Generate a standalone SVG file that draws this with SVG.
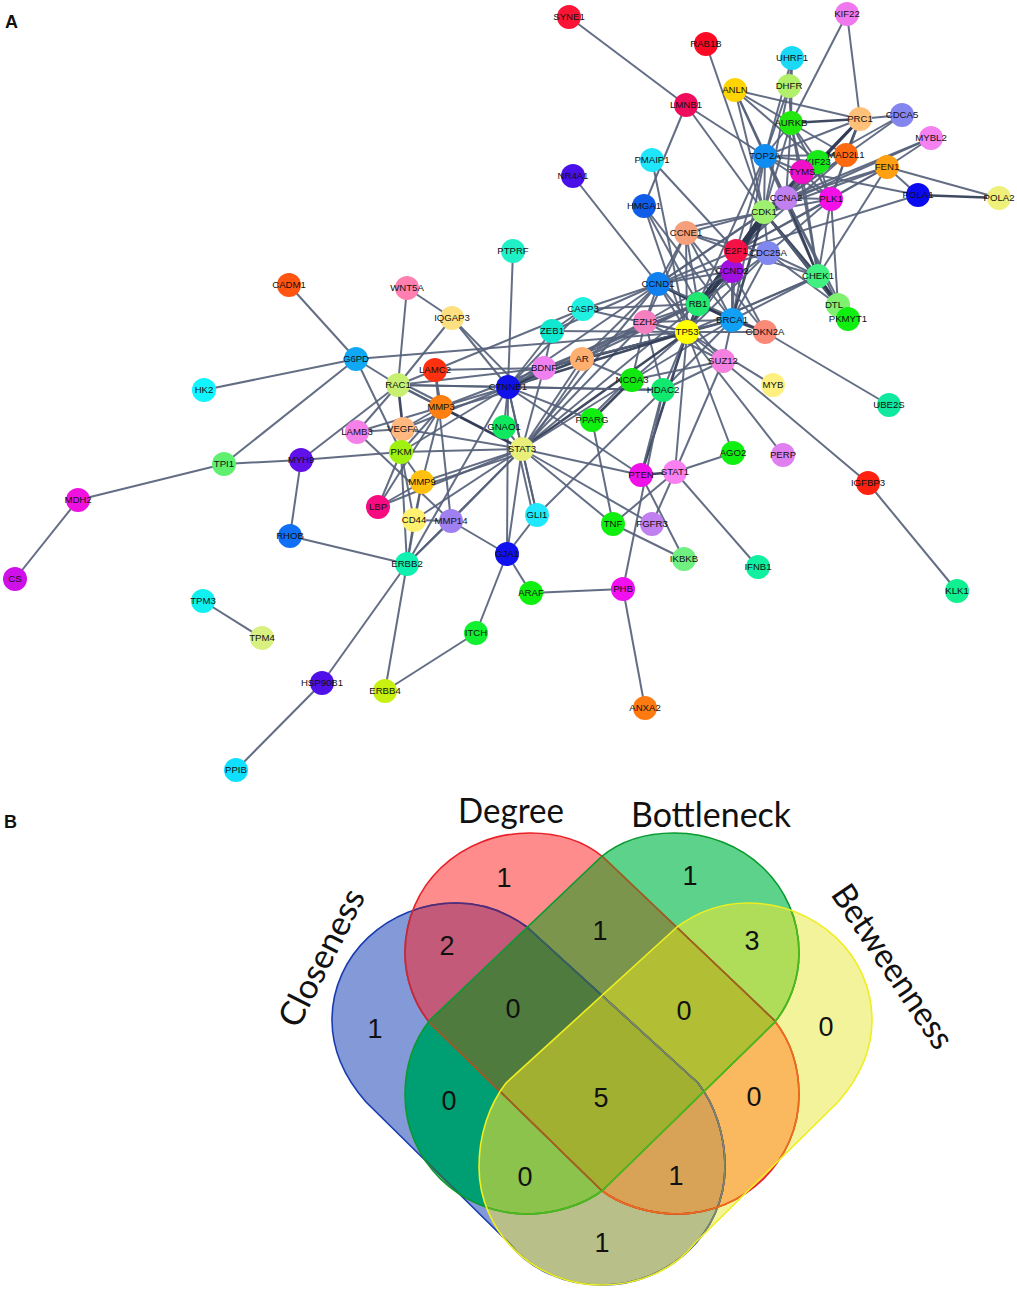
<svg xmlns="http://www.w3.org/2000/svg" xmlns:xlink="http://www.w3.org/1999/xlink" width="1017" height="1293" viewBox="0 0 1017 1293">
<style>
#edges path{fill:none;stroke:#56617a;stroke-width:2;stroke-opacity:.92}
#edges path.t{stroke:#2f3a52;stroke-width:2.6}
.n circle{r:12px}
.n text{font:9.6px "Liberation Sans",Arial,sans-serif;fill:#111;text-anchor:middle}
.num{font:27px "Liberation Sans",Arial,sans-serif;fill:#111;text-anchor:middle}
.ttl{font:34px Lato,"Liberation Sans",sans-serif;fill:#111;text-anchor:middle}
.pl{font:bold 18px "Liberation Sans",Arial,sans-serif;fill:#111}
.v{fill:none;stroke-width:1.6}
</style>
<defs>
<path id="pB" d="M332 1020C332 955 388 903 456 903C485 903 508 913 527 927L698 1083C715 1105 725 1135 725 1167C725 1232 670 1285 602 1285C565 1285 530 1270 509 1243L366 1102C345 1078 332 1050 332 1020Z"/>
<path id="pR" d="M405 953C405 885 460 833 530 833C560 833 585 842 603 857L774 1020C790 1040 799 1065 799 1095C799 1160 745 1214 677 1214C650 1214 620 1205 601 1190L430 1023C415 1005 405 980 405 953Z"/>
<path id="pG" d="M799 953C799 885 744 833 674 833C644 833 619 842 601 857L430 1020C414 1040 405 1065 405 1095C405 1160 459 1214 527 1214C554 1214 584 1205 603 1190L774 1023C789 1005 799 980 799 953Z"/>
<path id="pY" d="M872 1020C872 955 816 903 748 903C719 903 696 913 677 927L506 1083C489 1105 479 1135 479 1167C479 1232 534 1285 602 1285C639 1285 674 1270 695 1243L838 1102C859 1078 872 1050 872 1020Z"/>
<clipPath id="cB"><use href="#pB"/></clipPath>
<clipPath id="cR"><use href="#pR"/></clipPath>
<clipPath id="cG"><use href="#pG"/></clipPath>
<clipPath id="cY"><use href="#pY"/></clipPath>
</defs>
<rect width="1017" height="1293" fill="#fff"/>
<text class="pl" x="5" y="28">A</text>
<text class="pl" x="4" y="828">B</text>
<g id="edges">
<path d="M569 17L686 105"/><path d="M706 44L764 212"/><path d="M847 14L791 123"/><path d="M847 14L860 119"/>
<path d="M792 58L789 86"/><path d="M792 58L765 156"/><path d="M792 58L791 123"/><path d="M789 86L791 123"/><path d="M789 86L765 156"/><path d="M789 86L764 212"/>
<path d="M735 90L860 119"/><path d="M735 90L791 123"/><path d="M735 90L765 156"/><path d="M735 90L818 162"/><path d="M735 90L786 198"/><path d="M735 90L764 212"/>
<path d="M686 105L765 156"/><path d="M686 105L764 212"/><path d="M686 105L644 206"/>
<path d="M652 160L736 251"/><path d="M652 160L687 332"/><path d="M573 176L658 284"/>
<path d="M644 206L698 304"/><path d="M644 206L687 332"/><path d="M644 206L732 320"/>
<path class="t" d="M791 123L860 119"/><path d="M791 123L765 156"/><path d="M791 123L818 162"/><path d="M791 123L846 155"/><path d="M791 123L802 172"/><path d="M791 123L818 276"/><path d="M791 123L786 198"/><path d="M791 123L831 199"/><path d="M791 123L764 212"/>
<path d="M860 119L902 115"/><path d="M860 119L765 156"/><path class="t" d="M860 119L818 162"/><path class="t" d="M860 119L846 155"/><path class="t" d="M860 119L786 198"/><path d="M860 119L831 199"/><path d="M902 115L818 162"/><path d="M902 115L846 155"/>
<path d="M931 138L887 167"/><path d="M931 138L764 212"/><path d="M931 138L786 198"/>
<path d="M887 167L918 195"/><path d="M887 167L999 198"/><path d="M887 167L786 198"/><path d="M887 167L831 199"/><path d="M887 167L764 212"/><path d="M887 167L818 276"/><path d="M887 167L736 251"/>
<path class="t" d="M918 195L999 198"/><path d="M918 195L802 172"/><path d="M918 195L736 251"/>
<path d="M765 156L818 162"/><path d="M765 156L802 172"/><path d="M765 156L846 155"/><path d="M765 156L786 198"/><path d="M765 156L764 212"/><path d="M765 156L736 251"/><path d="M765 156L732 320"/><path d="M765 156L818 276"/><path d="M765 156L698 304"/><path d="M765 156L831 199"/>
<path d="M818 162L786 198"/><path d="M818 162L831 199"/><path class="t" d="M818 162L764 212"/><path d="M818 162L736 251"/>
<path d="M846 155L764 212"/><path d="M846 155L831 199"/><path d="M846 155L786 198"/><path d="M846 155L736 251"/>
<path d="M802 172L764 212"/><path class="t" d="M802 172L736 251"/><path d="M802 172L831 199"/><path d="M802 172L786 198"/><path d="M802 172L818 276"/>
<path d="M831 199L786 198"/><path d="M831 199L764 212"/><path d="M831 199L736 251"/><path d="M831 199L818 276"/><path d="M831 199L838 305"/><path d="M831 199L768 253"/>
<path d="M786 198L764 212"/><path class="t" d="M786 198L736 251"/><path class="t" d="M786 198L818 276"/><path d="M786 198L658 284"/><path d="M786 198L698 304"/><path d="M786 198L838 305"/><path d="M786 198L848 319"/>
<path d="M764 212L686 233"/><path d="M764 212L686 228"/><path class="t" d="M764 212L736 251"/><path d="M764 212L768 253"/><path class="t" d="M764 212L818 276"/><path class="t" d="M764 212L698 304"/><path class="t" d="M764 212L732 320"/><path d="M764 212L658 284"/><path class="t" d="M764 212L732 271"/><path class="t" d="M764 212L687 332"/><path class="t" d="M764 212L848 319"/><path d="M764 212L838 305"/>
<path d="M686 233L736 251"/><path d="M686 233L658 284"/><path d="M686 233L698 304"/><path d="M686 233L687 332"/><path d="M686 233L732 320"/><path d="M686 233L765 332"/><path d="M686 233L768 253"/><path d="M686 233L645 322"/>
<path class="t" d="M736 251L698 304"/><path d="M736 251L658 284"/><path class="t" d="M736 251L687 332"/><path d="M736 251L732 320"/><path d="M736 251L818 276"/>
<path d="M732 271L658 284"/><path class="t" d="M732 271L698 304"/><path d="M732 271L687 332"/><path d="M732 271L765 332"/><path d="M732 271L732 320"/><path d="M732 271L645 322"/>
<path d="M768 253L818 276"/><path d="M768 253L838 305"/><path d="M768 253L658 284"/><path d="M768 253L698 304"/><path d="M768 253L732 320"/><path d="M768 253L687 332"/>
<path d="M818 276L732 320"/><path d="M818 276L725 316"/><path d="M818 276L687 332"/><path class="t" d="M818 276L838 305"/><path class="t" d="M818 276L848 319"/>
<path class="t" d="M658 284L698 304"/><path class="t" d="M658 284L732 320"/><path d="M658 284L687 332"/><path d="M658 284L765 332"/><path d="M658 284L583 309"/><path d="M658 284L645 322"/><path d="M658 284L522 449"/><path d="M658 284L552 331"/><path d="M658 284L508 387"/><path d="M658 284L582 359"/><path d="M658 284L723 361"/>
<path class="t" d="M698 304L732 320"/><path class="t" d="M698 304L687 332"/><path d="M698 304L583 309"/><path d="M698 304L645 322"/><path d="M698 304L508 387"/><path d="M698 304L544 368"/><path d="M698 304L582 359"/><path d="M698 304L522 449"/>
<path d="M583 309L552 331"/><path d="M583 309L687 332"/><path d="M583 309L508 387"/><path d="M583 309L435 370"/>
<path class="t" d="M732 320L687 332"/><path d="M732 320L645 322"/><path class="t" d="M732 320L765 332"/><path d="M732 320L723 361"/><path d="M732 320L663 390"/><path d="M732 320L582 359"/><path d="M732 320L632 380"/>
<path d="M645 322L687 332"/><path d="M645 322L723 361"/><path d="M645 322L632 380"/><path d="M645 322L663 390"/><path d="M645 322L508 387"/><path d="M645 322L522 449"/><path d="M645 322L582 359"/>
<path d="M687 332L765 332"/><path d="M687 332L723 361"/><path d="M687 332L773 385"/><path d="M687 332L783 455"/><path d="M687 332L733 453"/><path class="t" d="M687 332L641 475"/><path d="M687 332L675 472"/><path d="M687 332L632 380"/><path d="M687 332L663 390"/><path class="t" d="M687 332L582 359"/><path d="M687 332L544 368"/><path class="t" d="M687 332L508 387"/><path class="t" d="M687 332L522 449"/><path d="M687 332L552 331"/><path d="M687 332L356 359"/>
<path d="M723 361L632 380"/><path d="M723 361L663 390"/><path d="M723 361L868 483"/><path d="M723 361L675 472"/>
<path d="M765 332L889 405"/><path d="M582 359L632 380"/><path class="t" d="M582 359L508 387"/><path d="M582 359L522 449"/><path d="M582 359L544 368"/>
<path d="M663 390L508 387"/><path d="M663 390L537 515"/><path d="M663 390L623 589"/><path d="M663 390L641 475"/><path d="M663 390L398 385"/>
<path class="t" d="M632 380L592 420"/><path d="M632 376L590 418"/><path d="M632 380L522 449"/>
<path d="M592 420L508 387"/><path d="M592 420L613 524"/>
<path class="t" d="M675 472L641 475"/><path d="M675 472L733 453"/><path d="M675 472L758 567"/><path d="M675 472L613 524"/><path d="M675 472L652 524"/>
<path d="M641 475L522 449"/><path d="M641 475L684 559"/><path d="M522 449L652 524"/><path d="M522 449L613 524"/><path d="M613 524L684 559"/><path d="M508 387L641 475"/>
<path d="M868 483L957 591"/><path d="M623 589L531 593"/><path d="M623 589L645 708"/><path d="M531 593L507 554"/><path d="M507 554L537 515"/><path d="M507 554L476 633"/><path d="M507 554L508 387"/><path d="M507 554L451 521"/><path d="M357 432L451 521"/>
<path d="M289 285L356 359"/><path d="M356 359L204 390"/><path d="M356 359L224 464"/><path d="M356 359L398 385"/><path d="M356 359L401 452"/>
<path d="M407 288L398 385"/><path d="M407 288L452 318"/><path d="M452 318L398 385"/><path d="M452 318L508 387"/><path d="M452 318L514 381"/><path d="M513 251L508 387"/>
<path d="M398 385L435 370"/><path d="M398 385L508 387"/><path d="M398 385L441 407"/><path d="M398 381L441 403"/><path class="t" d="M398 385L403 429"/><path d="M398 385L357 432"/><path d="M398 385L301 460"/><path d="M398 385L522 449"/><path d="M398 385L544 368"/>
<path d="M435 370L441 407"/><path d="M435 370L451 521"/><path d="M435 370L544 368"/>
<path d="M441 407L508 387"/><path d="M441 411L510 391"/><path class="t" d="M441 407L522 449"/><path d="M441 407L403 429"/><path d="M441 407L357 432"/><path d="M441 407L401 452"/><path d="M441 407L422 482"/><path d="M441 407L378 507"/><path d="M441 407L544 368"/>
<path d="M403 429L522 449"/><path d="M403 429L508 387"/><path d="M403 429L401 452"/><path d="M403 429L357 432"/>
<path d="M401 452L522 449"/><path d="M401 452L301 460"/><path d="M401 452L422 482"/><path d="M401 452L378 507"/><path d="M401 452L414 520"/><path d="M401 452L407 564"/><path d="M401 452L508 387"/>
<path d="M301 460L224 464"/><path d="M301 460L290 536"/><path d="M224 464L78 500"/><path d="M78 500L15 579"/>
<path d="M422 482L522 449"/><path d="M422 486L522 453"/><path d="M422 482L378 507"/><path d="M422 482L414 520"/><path d="M422 482L407 564"/>
<path d="M378 507L522 449"/><path d="M414 520L451 521"/><path d="M414 520L522 449"/><path d="M414 520L407 564"/><path d="M451 521L522 449"/><path d="M451 521L407 564"/>
<path d="M407 564L522 449"/><path d="M407 564L290 536"/><path d="M407 564L322 683"/><path d="M407 564L385 691"/><path d="M407 564L508 387"/>
<path d="M322 683L236 770"/><path d="M385 691L476 633"/><path d="M203 601L262 638"/>
<path d="M522 449L537 515"/><path d="M518 449L533 515"/><path d="M522 449L504 427"/><path d="M522 449L508 387"/><path d="M522 449L544 368"/><path d="M526 449L585 362"/><path d="M522 449L507 554"/>
<path d="M508 387L544 368"/><path d="M508 391L546 372"/><path d="M508 387L552 331"/><path d="M552 331L544 368"/><path d="M508 387L504 427"/><path d="M508 387L537 515"/>
</g>
<g id="nodes">
<g class="n" id="SYNE1"><circle cx="569" cy="17" fill="#fa1537"/><text x="569" y="20">SYNE1</text></g>
<g class="n" id="RAB1B"><circle cx="706" cy="44" fill="#ff0a25"/><text x="706" y="47">RAB1B</text></g>
<g class="n" id="KIF22"><circle cx="847" cy="14" fill="#f078ee"/><text x="847" y="17">KIF22</text></g>
<g class="n" id="UHRF1"><circle cx="792" cy="58" fill="#1ad9f5"/><text x="792" y="61">UHRF1</text></g>
<g class="n" id="DHFR"><circle cx="789" cy="86" fill="#b2f06c"/><text x="789" y="89">DHFR</text></g>
<g class="n" id="ANLN"><circle cx="735" cy="90" fill="#ffd400"/><text x="735" y="93">ANLN</text></g>
<g class="n" id="LMNB1"><circle cx="686" cy="105" fill="#f00c5c"/><text x="686" y="108">LMNB1</text></g>
<g class="n" id="PRC1"><circle cx="860" cy="119" fill="#ffc07a"/><text x="860" y="122">PRC1</text></g>
<g class="n" id="CDCA5"><circle cx="902" cy="115" fill="#8585f0"/><text x="902" y="118">CDCA5</text></g>
<g class="n" id="AURKB"><circle cx="791" cy="123" fill="#22e80f"/><text x="791" y="126">AURKB</text></g>
<g class="n" id="MYBL2"><circle cx="931" cy="138" fill="#f580f0"/><text x="931" y="141">MYBL2</text></g>
<g class="n" id="TOP2A"><circle cx="765" cy="156" fill="#0f8cf0"/><text x="765" y="159">TOP2A</text></g>
<g class="n" id="KIF23"><circle cx="818" cy="162" fill="#18e818"/><text x="818" y="165">KIF23</text></g>
<g class="n" id="MAD2L1"><circle cx="846" cy="155" fill="#ff6a10"/><text x="846" y="158">MAD2L1</text></g>
<g class="n" id="FEN1"><circle cx="887" cy="167" fill="#ffa010"/><text x="887" y="170">FEN1</text></g>
<g class="n" id="PMAIP1"><circle cx="652" cy="160" fill="#1fe6fa"/><text x="652" y="163">PMAIP1</text></g>
<g class="n" id="TYMS"><circle cx="802" cy="172" fill="#f010c8"/><text x="802" y="175">TYMS</text></g>
<g class="n" id="NR4A1"><circle cx="573" cy="176" fill="#4a10e8"/><text x="573" y="179">NR4A1</text></g>
<g class="n" id="POLA1"><circle cx="918" cy="195" fill="#0a0af0"/><text x="918" y="198">POLA1</text></g>
<g class="n" id="POLA2"><circle cx="999" cy="198" fill="#eef07a"/><text x="999" y="201">POLA2</text></g>
<g class="n" id="CCNA2"><circle cx="786" cy="198" fill="#c080f0"/><text x="786" y="201">CCNA2</text></g>
<g class="n" id="PLK1"><circle cx="831" cy="199" fill="#f510e8"/><text x="831" y="202">PLK1</text></g>
<g class="n" id="HMGA1"><circle cx="644" cy="206" fill="#0f5ce8"/><text x="644" y="209">HMGA1</text></g>
<g class="n" id="CDK1"><circle cx="764" cy="212" fill="#a0f070"/><text x="764" y="215">CDK1</text></g>
<g class="n" id="CCNE1"><circle cx="686" cy="233" fill="#f5a07a"/><text x="686" y="236">CCNE1</text></g>
<g class="n" id="CDC25A"><circle cx="768" cy="253" fill="#8088f0"/><text x="768" y="256">CDC25A</text></g>
<g class="n" id="CCND2"><circle cx="732" cy="271" fill="#a010e0"/><text x="732" y="274">CCND2</text></g>
<g class="n" id="E2F1"><circle cx="736" cy="251" fill="#f51045"/><text x="736" y="254">E2F1</text></g>
<g class="n" id="CHEK1"><circle cx="818" cy="276" fill="#40f080"/><text x="818" y="279">CHEK1</text></g>
<g class="n" id="CCND1"><circle cx="658" cy="284" fill="#1080f0"/><text x="658" y="287">CCND1</text></g>
<g class="n" id="RB1"><circle cx="698" cy="304" fill="#20e870"/><text x="698" y="307">RB1</text></g>
<g class="n" id="DTL"><circle cx="838" cy="305" fill="#80f070"/><text x="834" y="308">DTL</text></g>
<g class="n" id="PKMYT1"><circle cx="848" cy="319" fill="#10f010"/><text x="848" y="322">PKMYT1</text></g>
<g class="n" id="CASP3"><circle cx="583" cy="309" fill="#20f0e0"/><text x="583" y="312">CASP3</text></g>
<g class="n" id="BRCA1"><circle cx="732" cy="320" fill="#10a0f5"/><text x="732" y="323">BRCA1</text></g>
<g class="n" id="ZEB1"><circle cx="552" cy="331" fill="#10e8d0"/><text x="552" y="334">ZEB1</text></g>
<g class="n" id="EZH2"><circle cx="645" cy="322" fill="#f580c0"/><text x="645" y="325">EZH2</text></g>
<g class="n" id="TP53"><circle cx="687" cy="332" fill="#ffff00"/><text x="687" y="335">TP53</text></g>
<g class="n" id="CDKN2A"><circle cx="765" cy="332" fill="#fa8a78"/><text x="765" y="335">CDKN2A</text></g>
<g class="n" id="AR"><circle cx="582" cy="359" fill="#ffb070"/><text x="582" y="362">AR</text></g>
<g class="n" id="SUZ12"><circle cx="723" cy="361" fill="#f580e0"/><text x="723" y="364">SUZ12</text></g>
<g class="n" id="BDNF"><circle cx="544" cy="368" fill="#f080f0"/><text x="544" y="371">BDNF</text></g>
<g class="n" id="MYB"><circle cx="773" cy="385" fill="#fff080"/><text x="773" y="388">MYB</text></g>
<g class="n" id="NCOA3"><circle cx="632" cy="380" fill="#10e810"/><text x="632" y="383">NCOA3</text></g>
<g class="n" id="HDAC2"><circle cx="663" cy="390" fill="#10e870"/><text x="663" y="393">HDAC2</text></g>
<g class="n" id="CTNNB1"><circle cx="508" cy="387" fill="#1010e8"/><text x="508" y="390">CTNNB1</text></g>
<g class="n" id="PPARG"><circle cx="592" cy="420" fill="#10f010"/><text x="592" y="423">PPARG</text></g>
<g class="n" id="GNAO1"><circle cx="504" cy="427" fill="#10e860"/><text x="504" y="430">GNAO1</text></g>
<g class="n" id="STAT3"><circle cx="522" cy="449" fill="#e8f07a"/><text x="522" y="452">STAT3</text></g>
<g class="n" id="AGO2"><circle cx="733" cy="453" fill="#10f010"/><text x="733" y="456">AGO2</text></g>
<g class="n" id="PERP"><circle cx="783" cy="455" fill="#e080f0"/><text x="783" y="458">PERP</text></g>
<g class="n" id="PTEN"><circle cx="641" cy="475" fill="#f010e8"/><text x="641" y="478">PTEN</text></g>
<g class="n" id="STAT1"><circle cx="675" cy="472" fill="#f880f0"/><text x="675" y="475">STAT1</text></g>
<g class="n" id="IGFBP3"><circle cx="868" cy="483" fill="#ff2010"/><text x="868" y="486">IGFBP3</text></g>
<g class="n" id="GLI1"><circle cx="537" cy="515" fill="#20e8ff"/><text x="537" y="518">GLI1</text></g>
<g class="n" id="TNF"><circle cx="613" cy="524" fill="#10f010"/><text x="613" y="527">TNF</text></g>
<g class="n" id="FGFR3"><circle cx="652" cy="524" fill="#c080f0"/><text x="652" y="527">FGFR3</text></g>
<g class="n" id="IKBKB"><circle cx="684" cy="559" fill="#70f080"/><text x="684" y="562">IKBKB</text></g>
<g class="n" id="IFNB1"><circle cx="758" cy="567" fill="#10f0a0"/><text x="758" y="570">IFNB1</text></g>
<g class="n" id="GJA1"><circle cx="507" cy="554" fill="#1010f0"/><text x="507" y="557">GJA1</text></g>
<g class="n" id="PHB"><circle cx="623" cy="589" fill="#f010f0"/><text x="623" y="592">PHB</text></g>
<g class="n" id="ARAF"><circle cx="531" cy="593" fill="#10f010"/><text x="531" y="596">ARAF</text></g>
<g class="n" id="PTPRF"><circle cx="513" cy="251" fill="#20f0c8"/><text x="513" y="254">PTPRF</text></g>
<g class="n" id="CADM1"><circle cx="289" cy="285" fill="#ff5510"/><text x="289" y="288">CADM1</text></g>
<g class="n" id="WNT5A"><circle cx="407" cy="288" fill="#ff80b0"/><text x="407" y="291">WNT5A</text></g>
<g class="n" id="IQGAP3"><circle cx="452" cy="318" fill="#ffe080"/><text x="452" y="321">IQGAP3</text></g>
<g class="n" id="G6PD"><circle cx="356" cy="359" fill="#10a8f5"/><text x="356" y="362">G6PD</text></g>
<g class="n" id="LAMC2"><circle cx="435" cy="370" fill="#ff3010"/><text x="435" y="373">LAMC2</text></g>
<g class="n" id="HK2"><circle cx="204" cy="390" fill="#10f5ff"/><text x="204" y="393">HK2</text></g>
<g class="n" id="RAC1"><circle cx="398" cy="385" fill="#c8f070"/><text x="398" y="388">RAC1</text></g>
<g class="n" id="MMP3"><circle cx="441" cy="407" fill="#ff8010"/><text x="441" y="410">MMP3</text></g>
<g class="n" id="VEGFA"><circle cx="403" cy="429" fill="#ffb880"/><text x="403" y="432">VEGFA</text></g>
<g class="n" id="LAMB3"><circle cx="357" cy="432" fill="#f580e8"/><text x="357" y="435">LAMB3</text></g>
<g class="n" id="PKM"><circle cx="401" cy="452" fill="#a0f010"/><text x="401" y="455">PKM</text></g>
<g class="n" id="TPI1"><circle cx="224" cy="464" fill="#60f070"/><text x="224" y="467">TPI1</text></g>
<g class="n" id="MYH9"><circle cx="301" cy="460" fill="#6010e8"/><text x="301" y="463">MYH9</text></g>
<g class="n" id="MMP9"><circle cx="422" cy="482" fill="#ffc010"/><text x="422" y="485">MMP9</text></g>
<g class="n" id="LBP"><circle cx="378" cy="507" fill="#f80a80"/><text x="378" y="510">LBP</text></g>
<g class="n" id="CD44"><circle cx="414" cy="520" fill="#fff070"/><text x="414" y="523">CD44</text></g>
<g class="n" id="MMP14"><circle cx="451" cy="521" fill="#a080f0"/><text x="451" y="524">MMP14</text></g>
<g class="n" id="RHOB"><circle cx="290" cy="536" fill="#1070f5"/><text x="290" y="539">RHOB</text></g>
<g class="n" id="ERBB2"><circle cx="407" cy="564" fill="#10f0b0"/><text x="407" y="567">ERBB2</text></g>
<g class="n" id="MDH2"><circle cx="78" cy="500" fill="#f010e0"/><text x="78" y="503">MDH2</text></g>
<g class="n" id="CS"><circle cx="15" cy="579" fill="#d010e8"/><text x="15" y="582">CS</text></g>
<g class="n" id="TPM3"><circle cx="203" cy="601" fill="#10f0f0"/><text x="203" y="604">TPM3</text></g>
<g class="n" id="TPM4"><circle cx="262" cy="638" fill="#d8f080"/><text x="262" y="641">TPM4</text></g>
<g class="n" id="ITCH"><circle cx="476" cy="633" fill="#10f030"/><text x="476" y="636">ITCH</text></g>
<g class="n" id="HSP90B1"><circle cx="322" cy="683" fill="#5010e8"/><text x="322" y="686">HSP90B1</text></g>
<g class="n" id="ERBB4"><circle cx="385" cy="691" fill="#c8f010"/><text x="385" y="694">ERBB4</text></g>
<g class="n" id="PPIB"><circle cx="236" cy="770" fill="#10e0ff"/><text x="236" y="773">PPIB</text></g>
<g class="n" id="ANXA2"><circle cx="645" cy="708" fill="#ff7a10"/><text x="645" y="711">ANXA2</text></g>
<g class="n" id="KLK1"><circle cx="957" cy="591" fill="#10f090"/><text x="957" y="594">KLK1</text></g>
<g class="n" id="UBE2S"><circle cx="889" cy="405" fill="#10e8a0"/><text x="889" y="408">UBE2S</text></g>
</g>
<g id="venn">
<use href="#pB" fill="#8499d8"/><use href="#pR" fill="#ff8c8c"/><use href="#pG" fill="#5dd28a"/><use href="#pY" fill="#f3f39b"/>
<g clip-path="url(#cB)"><use href="#pY" fill="#b8bf88"/><use href="#pR" fill="#c45a7a"/><use href="#pG" fill="#009e73"/></g>
<g clip-path="url(#cR)"><use href="#pG" fill="#7b964c"/><use href="#pY" fill="#fbb95f"/></g>
<g clip-path="url(#cG)"><use href="#pY" fill="#afdd5a"/></g>
<g clip-path="url(#cB)"><g clip-path="url(#cR)"><use href="#pG" fill="#4f7b3f"/><use href="#pY" fill="#d8a257"/></g><g clip-path="url(#cG)"><use href="#pY" fill="#8bc34d"/></g></g>
<g clip-path="url(#cR)"><g clip-path="url(#cG)"><use href="#pY" fill="#b2bf35"/></g></g>
<g clip-path="url(#cB)"><g clip-path="url(#cR)"><g clip-path="url(#cG)"><use href="#pY" fill="#a1b030"/></g></g></g>
<use href="#pB" class="v" stroke="#1a3cae"/>
<g clip-path="url(#cR)"><use href="#pB" class="v" stroke="#5a2a70"/></g>
<g clip-path="url(#cG)"><use href="#pB" class="v" stroke="#2f6a55"/></g>
<g clip-path="url(#cY)"><use href="#pB" class="v" stroke="#7f8a60"/></g>
<use href="#pR" class="v" stroke="#e82028"/>
<g clip-path="url(#cB)"><use href="#pR" class="v" stroke="#b83040"/></g>
<g clip-path="url(#cY)"><use href="#pR" class="v" stroke="#e8701a"/></g>
<g clip-path="url(#cG)"><use href="#pR" class="v" stroke="#8a6a20"/></g>
<use href="#pG" class="v" stroke="#0a9a30"/>
<g clip-path="url(#cY)"><use href="#pG" class="v" stroke="#50b818"/></g>
<use href="#pY" class="v" stroke="#eeee20"/>
<text class="num" x="504" y="887">1</text><text class="num" x="690" y="885">1</text><text class="num" x="600" y="940">1</text><text class="num" x="447" y="955">2</text><text class="num" x="752" y="950">3</text><text class="num" x="513" y="1018">0</text><text class="num" x="684" y="1020">0</text><text class="num" x="375" y="1038">1</text><text class="num" x="826" y="1036">0</text><text class="num" x="449" y="1110">0</text><text class="num" x="601" y="1107">5</text><text class="num" x="754" y="1106">0</text><text class="num" x="525" y="1186">0</text><text class="num" x="676" y="1185">1</text><text class="num" x="602" y="1252">1</text>
<text class="ttl" x="511" y="823" textLength="106" lengthAdjust="spacingAndGlyphs">Degree</text>
<text class="ttl" x="711" y="827" textLength="160" lengthAdjust="spacingAndGlyphs">Bottleneck</text>
<text class="ttl" transform="translate(332 963) rotate(-63)" textLength="150" lengthAdjust="spacingAndGlyphs">Closeness</text>
<text class="ttl" transform="translate(883 973) rotate(56)" textLength="190" lengthAdjust="spacingAndGlyphs">Betweenness</text>
</g>
</svg>
